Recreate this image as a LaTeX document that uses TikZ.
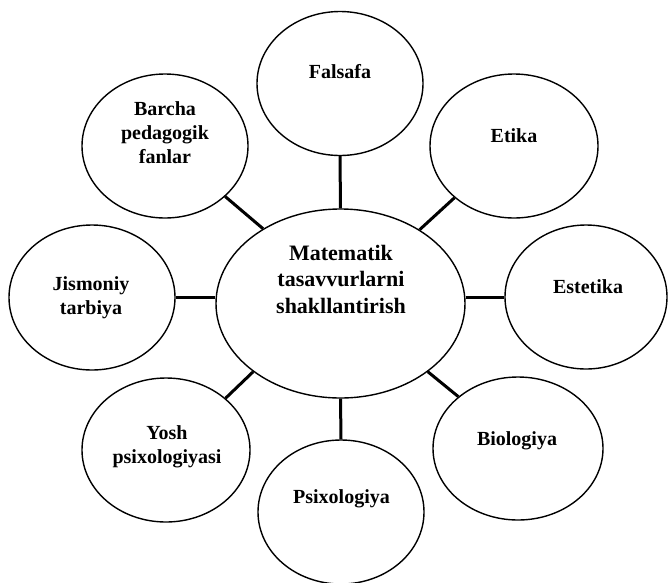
\documentclass[tikz,border=0pt]{standalone}
\usepackage{fontspec}
\setmainfont{Liberation Serif}
\usetikzlibrary{shapes.geometric}
\tikzset{
  sat/.style={ellipse, draw=black, line width=1.4pt, inner sep=0pt,
    minimum width=166pt, minimum height=144pt},
  cenell/.style={ellipse, draw=black, line width=1.4pt, inner sep=0pt,
    minimum width=249pt, minimum height=189pt},
  lbl/.style={anchor=base, inner sep=0pt, font=\fontsize{20}{24}\selectfont\bfseries},
  clbl/.style={anchor=base, inner sep=0pt, font=\fontsize{22}{26.5}\selectfont\bfseries},
  link/.style={line width=3pt, black}
}
\newcommand{\mlines}[1]{\begin{tabular}[t]{@{}c@{}}#1\end{tabular}}
\begin{document}
\begin{tikzpicture}[x=1pt,y=-1pt]
\useasboundingbox (0,0) rectangle (669,582);
\fill[white] (0,0) rectangle (669,582);
% ellipses
\node[cenell] (cen) at (340.5,303.5) {};
\node[sat] (fal) at (340,83.5) {};
\node[sat] (bar) at (165,146) {};
\node[sat, minimum width=168pt] (eti) at (514,146) {};
\node[sat, minimum height=145pt] (jis) at (92,297.5) {};
\node[sat, minimum width=162pt] (est) at (586,297) {};
\node[sat, minimum width=168pt] (yos) at (166,450) {};
\node[sat] (psi) at (341,512) {};
\node[sat, minimum width=170pt, minimum height=143pt] (bio) at (518,448.5) {};
% labels
\node[clbl] (tcen) at (341,260) {\mlines{Matematik\\tasavvurlarni\\shakllantirish}};
\node[lbl] (tfal) at (340,78) {Falsafa};
\node[lbl] (tbar) at (165,115) {\mlines{Barcha\\pedagogik\\fanlar}};
\node[lbl] (teti) at (514,142) {Etika};
\node[lbl] (tjis) at (91,290) {\mlines{Jismoniy\\tarbiya}};
\node[lbl] (test) at (588,293) {Estetika};
\node[lbl] (tyos) at (167,439) {\mlines{Yosh\\psixologiyasi}};
\node[lbl] (tpsi) at (341.5,503) {Psixologiya};
\node[lbl] (tbio) at (517,445) {Biologiya};
% connectors
\draw[link] (fal.south) -- (cen.north);
\draw[link] (psi.north) -- (cen.south);
\draw[link] (jis.east) -- (jis.east -| cen.west);
\draw[link] (est.west) -- (est.west -| cen.east);
\draw[link] (bar.-40.8) -- (cen.136.5);
\draw[link] (eti.-139.2) -- (cen.43.5);
\draw[link] (yos.41.9) -- (cen.218.5);
\draw[link] (bio.139.8) -- (cen.-38.5);
\end{tikzpicture}
\end{document}
